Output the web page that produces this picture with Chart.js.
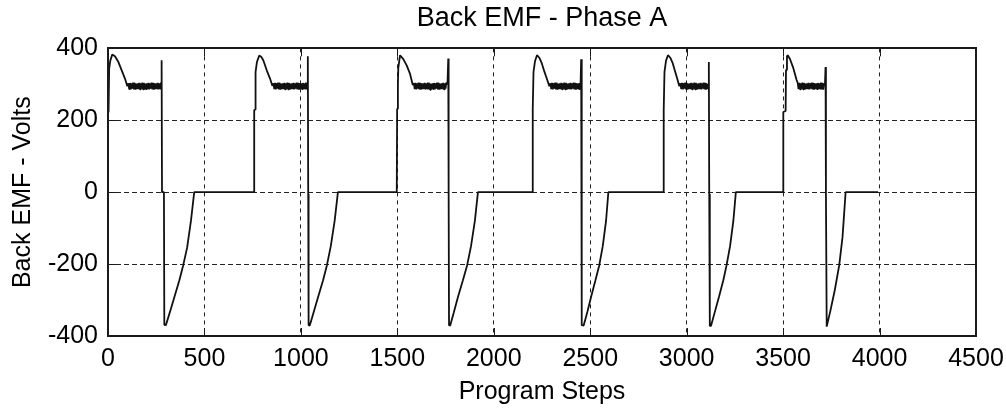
<!DOCTYPE html>
<html>
<head>
<meta charset="utf-8">
<title>Back EMF - Phase A</title>
<script src="https://cdn.jsdelivr.net/npm/chart.js@4/dist/chart.umd.min.js"></script>
<style>
  html, body { margin: 0; padding: 0; background: #fff; }
  #wrap { width: 1006px; height: 408px; }
</style>
</head>
<body>
<div id="wrap"><canvas id="c" width="1006" height="408"></canvas></div>
<script>
// Back EMF of phase A, sampled per program step: [step, volts]
const cycle1 = [
  [0,223],[2,340],[4,226],[6,344],[12,366],[22,383],[36,378],[54,362],[71,339],[88,316],[100,295],
  [106,303],[110,287],[114,304],[118,286],[122,303],[126,288],[130,305],[134,286],[138,304],[142,285],
  [146,302],[150,287],[154,303],[158,287],[162,304],[166,286],[170,303],[174,288],[178,305],[182,286],
  [186,304],[190,285],[194,302],[198,287],[202,303],[206,287],[210,304],[214,286],[218,303],[222,288],
  [226,305],[230,286],[234,304],[238,285],[242,302],[246,287],[250,303],[254,287],[258,304],[262,286],
  [266,303],[270,288],[274,305],
  [277,300],[278,367],[280,0],[290,0],[292,-369],[300,-370],[320,-335],[345,-290],[370,-245],
  [390,-203],[410,-155],[430,-80],[447,0]
];
const cycle2 = [
  [757,0],[758,228],[764,230],[765,334],[772,362],[784,380],[795,376],[805,367],[823,339],[840,316],[852,296],
  [858,303],[862,287],[866,304],[870,286],[874,303],[878,288],[882,305],[886,286],[890,304],[894,285],
  [898,302],[902,287],[906,303],[910,287],[914,304],[918,286],[922,303],[926,288],[930,305],[934,286],
  [938,304],[942,285],[946,302],[950,287],[954,303],[958,287],[962,304],[966,286],[970,303],[974,288],
  [978,305],[982,286],[986,304],[990,285],[994,302],[998,287],[1002,303],[1006,287],[1010,304],[1014,286],
  [1018,303],[1022,288],[1026,305],[1030,286],
  [1034,298],[1036,378],[1038,-5],[1040,-370],[1046,-371],[1065,-336],[1090,-290],[1115,-245],
  [1135,-203],[1155,-150],[1175,-80],[1192,0]
];
const cycle3 = [
  [1497,0],[1499,232],[1503,300],[1505,345],[1514,381],[1531,370],[1549,352],[1566,329],[1580,298],
  [1586,303],[1590,287],[1594,304],[1598,286],[1602,303],[1606,288],[1610,305],[1614,286],[1618,304],[1622,285],
  [1626,302],[1630,287],[1634,303],[1638,287],[1642,304],[1646,286],[1650,303],[1654,288],[1658,305],[1662,286],
  [1666,304],[1670,285],[1674,302],[1678,287],[1682,303],[1686,287],[1690,304],[1694,286],[1698,303],[1702,288],
  [1706,305],[1710,286],[1714,304],[1718,285],[1722,302],[1726,287],[1730,303],[1734,287],[1738,304],[1742,286],
  [1746,303],[1750,288],[1754,305],
  [1760,300],[1764,372],[1766,-5],[1768,-370],[1774,-371],[1792,-336],[1815,-290],[1840,-245],
  [1862,-203],[1882,-150],[1902,-80],[1918,0]
];
const cycle4 = [
  [2200,0],[2202,230],[2206,335],[2214,365],[2224,381],[2236,374],[2248,360],[2262,336],[2276,314],[2288,295],
  [2294,303],[2298,287],[2302,304],[2306,286],[2310,303],[2314,288],[2318,305],[2322,286],[2326,304],[2330,285],
  [2334,302],[2338,287],[2342,303],[2346,287],[2350,304],[2354,286],[2358,303],[2362,288],[2366,305],[2370,286],
  [2374,304],[2378,285],[2382,302],[2386,287],[2390,303],[2394,287],[2398,304],[2402,286],[2406,303],[2410,288],
  [2414,305],[2418,286],[2422,304],[2426,285],[2430,302],[2434,287],[2438,303],[2442,287],[2446,304],
  [2450,300],[2453,370],[2455,-5],[2457,-370],[2466,-371],[2485,-333],[2505,-290],[2527,-245],
  [2547,-203],[2565,-150],[2582,-80],[2594,0]
];
const cycle5 = [
  [2879,0],[2881,228],[2885,335],[2893,366],[2903,381],[2915,374],[2927,360],[2940,336],[2952,314],[2962,295],
  [2968,303],[2972,287],[2976,304],[2980,286],[2984,303],[2988,288],[2992,305],[2996,286],[3000,304],[3004,285],
  [3008,302],[3012,287],[3016,303],[3020,287],[3024,304],[3028,286],[3032,303],[3036,288],[3040,305],[3044,286],
  [3048,304],[3052,285],[3056,302],[3060,287],[3064,303],[3068,287],[3072,304],[3076,286],[3080,303],[3084,288],
  [3088,305],[3092,286],[3096,304],[3100,285],[3104,302],[3108,287],
  [3113,300],[3115,362],[3117,-5],[3120,-372],[3126,-372],[3145,-335],[3168,-290],[3190,-245],
  [3207,-203],[3225,-150],[3242,-80],[3255,0]
];
const cycle6 = [
  [3500,0],[3501,223],[3513,226],[3515,340],[3520,378],[3524,381],[3536,370],[3553,345],[3570,312],
  [3576,303],[3580,287],[3584,304],[3588,286],[3592,303],[3596,288],[3600,305],[3604,286],[3608,304],[3612,285],
  [3616,302],[3620,287],[3624,303],[3628,287],[3632,304],[3636,286],[3640,303],[3644,288],[3648,305],[3652,286],
  [3656,304],[3660,285],[3664,302],[3668,287],[3672,303],[3676,287],[3680,304],[3684,286],[3688,303],[3692,288],
  [3696,305],[3700,286],[3704,304],[3708,285],[3712,302],
  [3717,300],[3720,348],[3722,-5],[3726,-374],[3745,-330],[3768,-272],[3791,-203],[3808,-125],[3824,0],
  [3992,0]
];

// Axis ticks and labels
const xTickValues = [0, 500, 1000, 1500, 2000, 2500, 3000, 3500, 4000, 4500];
const yTickValues = [-400, -200, 0, 200, 400];
const titleText = 'Back EMF - Phase A';
const xLabel = 'Program Steps';
const yLabel = 'Back EMF - Volts';

const points = [cycle1, cycle2, cycle3, cycle4, cycle5, cycle6]
  .flat()
  .map(([x, y]) => ({ x, y }));

const FONT = "'Liberation Sans', Arial, sans-serif";
const INK = '#000';

// Solid frame round the plot with short inward tick marks on all four sides
const frame = {
  id: 'frame',
  afterDatasetsDraw(chart) {
    const { ctx, chartArea: a, scales } = chart;
    const len = 8;
    ctx.save();
    ctx.strokeStyle = '#1a1a1a';
    ctx.lineWidth = 1;
    ctx.beginPath();
    for (const v of xTickValues) {
      const px = Math.round(scales.x.getPixelForValue(v)) + 0.5;
      ctx.moveTo(px, a.bottom); ctx.lineTo(px, a.bottom - len);
      ctx.moveTo(px, a.top); ctx.lineTo(px, a.top + len);
    }
    for (const v of yTickValues) {
      const py = Math.round(scales.y.getPixelForValue(v)) + 0.5;
      ctx.moveTo(a.left, py); ctx.lineTo(a.left + len, py);
      ctx.moveTo(a.right, py); ctx.lineTo(a.right - len, py);
    }
    ctx.stroke();
    ctx.lineWidth = 2;
    ctx.strokeRect(Math.round(a.left), Math.round(a.top),
                   Math.round(a.right) - Math.round(a.left),
                   Math.round(a.bottom) - Math.round(a.top));
    ctx.restore();
  }
};

const edgeless = (lo, hi) => (c) =>
  (c.tick && (c.tick.value === lo || c.tick.value === hi)) ? 'rgba(0,0,0,0)' : '#222';

new Chart(document.getElementById('c'), {
  type: 'line',
  data: {
    datasets: [{
      data: points,
      borderColor: '#111',
      borderWidth: 1.8,
      borderJoinStyle: 'bevel',
      borderCapStyle: 'butt',
      pointRadius: 0,
      tension: 0,
      fill: false
    }]
  },
  plugins: [frame],
  options: {
    responsive: false,
    devicePixelRatio: 1,
    animation: false,
    events: [],
    layout: { padding: { left: 0, right: 30, top: 0, bottom: 0 } },
    plugins: {
      legend: { display: false },
      tooltip: { enabled: false },
      title: {
        display: true,
        fullSize: false,
        text: titleText,
        color: INK,
        font: { family: FONT, size: 27, weight: 'normal' },
        padding: { top: 2, bottom: 14 }
      }
    },
    scales: {
      x: {
        type: 'linear',
        min: 0,
        max: 4500,
        afterBuildTicks: (s) => { s.ticks = xTickValues.map(v => ({ value: v })); },
        afterFit: (s) => { s.height = 72; s.paddingLeft = 0; s.paddingRight = 0; },
        ticks: {
          color: INK,
          padding: 8,
          maxRotation: 0,
          autoSkip: false,
          callback: (v) => String(v),
          font: { family: FONT, size: 25 }
        },
        grid: {
          color: edgeless(0, 4500),
          lineWidth: 1,
          drawTicks: false
        },
        border: { display: false, dash: [4, 4] },
        title: {
          display: true,
          text: xLabel,
          color: INK,
          font: { family: FONT, size: 25 },
          padding: { top: 0, bottom: 1 }
        }
      },
      y: {
        min: -400,
        max: 400,
        afterBuildTicks: (s) => { s.ticks = yTickValues.map(v => ({ value: v })); },
        afterFit: (s) => { s.width = 108; },
        ticks: {
          color: INK,
          padding: 10,
          callback: (v) => String(v),
          font: { family: FONT, size: 25 }
        },
        grid: {
          color: edgeless(-400, 400),
          lineWidth: 1,
          drawTicks: false
        },
        border: { display: false, dash: [5, 3] },
        title: {
          display: true,
          text: yLabel,
          color: INK,
          font: { family: FONT, size: 25 },
          padding: { top: 8, bottom: 0 }
        }
      }
    }
  }
});
</script>
</body>
</html>
